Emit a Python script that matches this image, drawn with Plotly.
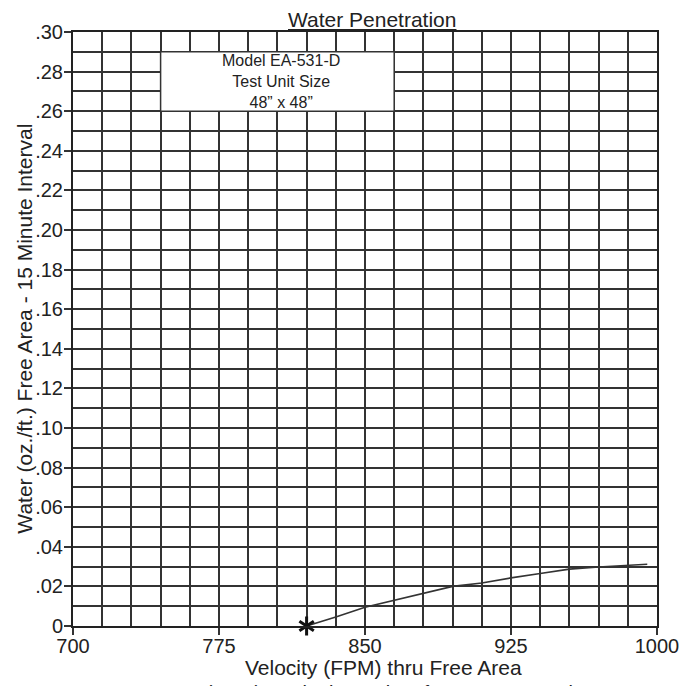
import plotly.graph_objects as go

# ---- data ----
velocity = [820, 835, 850, 865, 880, 895, 910, 925, 940, 955, 970, 985, 995]
water = [0.0, 0.0045, 0.0095, 0.013, 0.0164, 0.020, 0.0217, 0.0243, 0.0265, 0.0287, 0.0298, 0.0306, 0.0312]
start_point_x = [820]
start_point_y = [0.0]

x_tickvals = [700, 775, 850, 925, 1000]
x_ticktext = ["700", "775", "850", "925", "1000"]
y_tickvals = [0.0, 0.02, 0.04, 0.06, 0.08, 0.10, 0.12, 0.14, 0.16, 0.18, 0.20, 0.22, 0.24, 0.26, 0.28, 0.30]
y_ticktext = ["0", ".02", ".04", ".06", ".08", ".10", ".12", ".14", ".16", ".18", ".20", ".22", ".24", ".26", ".28", ".30"]

legend_lines = ["Model EA-531-D", "Test Unit Size", "48\u201d x 48\u201d"]
title_text = "Water Penetration"
x_title = "Velocity (FPM) thru Free Area"
y_title = "Water (oz./ft.) Free Area - 15 Minute Interval"
footnote = "*820 (FPM) Beginning Point of Water Penetration"

FONT = "Arial, Liberation Sans, Helvetica, sans-serif"
GRID = "#333333"
TXT = "#222222"

fig = go.Figure()
fig.add_trace(go.Scatter(x=velocity, y=water, mode="lines",
                         line=dict(color="#333333", width=1.6), showlegend=False, hoverinfo="skip"))
for sym in ["y-up-open", "y-down-open"]:
    fig.add_trace(go.Scatter(x=start_point_x, y=start_point_y, mode="markers",
                             marker=dict(symbol=sym, size=12, color="#111111",
                                         line=dict(color="#111111", width=3)),
                             showlegend=False, hoverinfo="skip", cliponaxis=False))

# the page body has an 8px default margin, so the figure is 8px smaller
fig.update_layout(
    width=685, height=678,
    margin=dict(l=65, r=36, t=24, b=60, autoexpand=False),
    paper_bgcolor="white", plot_bgcolor="white",
    font=dict(family=FONT, color=TXT, size=20),
    showlegend=False,
)
fig.update_xaxes(
    range=[700, 1000], tickmode="array", tickvals=x_tickvals, ticktext=x_ticktext,
    showgrid=True, gridcolor=GRID, gridwidth=1.5, automargin=False,
    minor=dict(tick0=700, dtick=15, showgrid=True, gridcolor=GRID, gridwidth=1.5, ticks=""),
    ticks="outside", ticklen=7, tickwidth=1.5, tickcolor=GRID, ticklabelstandoff=-6,
    showline=True, linecolor="#222222", linewidth=2, mirror=True,
    zeroline=False, tickfont=dict(size=20, color=TXT),
)
fig.update_yaxes(
    range=[0, 0.30], tickmode="array", tickvals=y_tickvals, ticktext=y_ticktext,
    showgrid=True, gridcolor=GRID, gridwidth=1.5, automargin=False,
    minor=dict(tick0=0, dtick=0.01, showgrid=True, gridcolor=GRID, gridwidth=1.5, ticks=""),
    ticks="outside", ticklen=7, tickwidth=1.5, tickcolor=GRID, ticklabelstandoff=-3,
    showline=True, linecolor="#222222", linewidth=2, mirror=True,
    zeroline=False, tickfont=dict(size=20, color=TXT),
)

# legend box (white, covers grid)
fig.add_shape(type="rect", x0=745, x1=865, y0=0.26, y1=0.29, xref="x", yref="y",
              fillcolor="white", line=dict(color=GRID, width=1.5), layer="between")
fig.add_annotation(x=807, y=0.275, xref="x", yref="y", text="<br>".join(legend_lines),
                   showarrow=False, font=dict(size=16, color=TXT), align="center")

# title
fig.add_annotation(x=0.512, y=1, xref="paper", yref="paper", yshift=13, yanchor="middle",
                   text="<u>" + title_text + "</u>", showarrow=False, font=dict(size=21, color=TXT))
# x title
fig.add_annotation(x=0.531, y=0, xref="paper", yref="paper", yshift=-41, yanchor="middle",
                   text=x_title, showarrow=False, font=dict(size=21, color=TXT))
# footnote (partly cut off at bottom)
fig.add_annotation(x=0.1435, y=0, xref="paper", yref="paper", xanchor="left", yanchor="top",
                   yshift=-54, text=footnote, showarrow=False, font=dict(size=20, color=TXT))
# y title
fig.add_annotation(x=-0.0845, y=0.5, xref="paper", yref="paper", xanchor="center", yanchor="middle",
                   textangle=-90, text=y_title, showarrow=False, font=dict(size=21, color=TXT))

fig.write_html("out.html")
